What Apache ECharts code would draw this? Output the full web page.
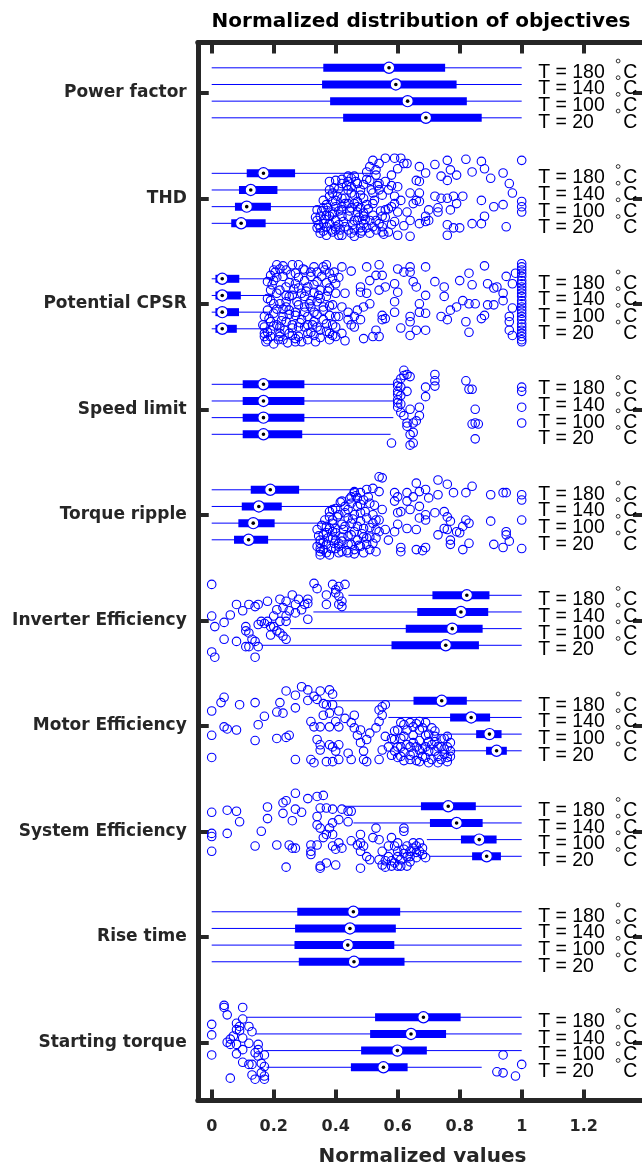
<!DOCTYPE html>
<html>
<head>
<meta charset="utf-8">
<script src="https://cdn.jsdelivr.net/npm/echarts@6/dist/echarts.min.js"></script>
<style>
html,body{margin:0;padding:0;background:#fff;}
#chart{width:642px;height:1167px;}
</style>
</head>
<body>
<div id="chart"></div>
<script>
// ---------------- DATA ----------------
const categories = ['Power factor','THD','Potential CPSR','Speed limit','Torque ripple',
  'Inverter Efficiency','Motor Efficiency','System Efficiency','Rise time','Starting torque'];
const temperatures = ['180','140','100','20'];
const xTickValues = [0,0.2,0.4,0.6,0.8,1,1.2];
const xTickLabels = ['0','0.2','0.4','0.6','0.8','1','1.2'];

// box stats per temperature (180,140,100,20): [whiskerLow, q1, median, q3, whiskerHigh]
const powerFactorStats = [[0,0.360,0.572,0.753,1],[0,0.356,0.594,0.790,1],[0,0.382,0.632,0.823,1],[0,0.424,0.691,0.871,1]];
const thdStats = [[0,0.113,0.167,0.269,0.52],[0,0.088,0.126,0.212,0.46],[0,0.075,0.113,0.191,0.38],[0,0.063,0.095,0.174,0.34]];
const cpsrStats = [[0,0.012,0.034,0.089,0.20],[0,0.012,0.034,0.094,0.20],[0,0.012,0.034,0.088,0.19],[0,0.012,0.034,0.081,0.18]];
const speedLimitStats = [[0,0.100,0.167,0.299,0.590],[0,0.100,0.167,0.299,0.590],[0,0.100,0.167,0.299,0.586],[0,0.100,0.167,0.292,0.577]];
const torqueRippleStats = [[0,0.126,0.189,0.282,0.46],[0,0.097,0.152,0.226,0.42],[0,0.086,0.134,0.203,0.38],[0,0.072,0.119,0.182,0.34]];
const inverterEffStats = [[0.441,0.712,0.823,0.896,1],[0.328,0.663,0.804,0.892,1],[0.253,0.626,0.776,0.874,1],[0.161,0.580,0.755,0.862,1]];
const motorEffStats = [[0.371,0.651,0.742,0.823,1],[0.570,0.769,0.837,0.898,1],[0.758,0.853,0.896,0.935,1],[0.774,0.885,0.919,0.952,1]];
const systemEffStats = [[0.425,0.675,0.763,0.852,1],[0.457,0.704,0.790,0.874,1],[0.694,0.804,0.863,0.919,1],[0.704,0.840,0.887,0.933,1]];
const riseTimeStats = [[0,0.276,0.457,0.608,1],[0,0.269,0.446,0.594,1],[0,0.267,0.439,0.589,1],[0,0.281,0.459,0.622,1]];
const startingTorqueStats = [[0.113,0.527,0.683,0.803,1],[0.140,0.511,0.643,0.756,1],[0.167,0.482,0.599,0.694,1],[0.177,0.449,0.554,0.632,0.871]];

// outliers per group: [value, jitter within the group band]
const powerFactorOutliers = [];
const thdOutliers = [
[0.52,-0.36],[0.54,-0.33],[0.56,-0.38],[0.59,-0.38],[0.61,-0.38],[0.62,-0.33],[0.63,-0.33],[0.76,-0.36],[0.82,-0.37],[0.87,-0.35],
[1.0,-0.36],[0.88,-0.28],[0.84,-0.25],[0.90,-0.19],[0.94,-0.24],[0.96,-0.14],[0.97,-0.05],[0.79,-0.22],[0.77,-0.27],[0.76,-0.17],
[0.74,-0.21],[0.72,-0.32],[0.69,-0.24],[0.67,-0.30],[0.67,-0.16],[0.66,-0.17],[0.60,-0.28],[0.58,-0.22],[0.56,-0.16],[0.53,-0.27],
[0.51,-0.30],[0.50,-0.25],
[0.64,-0.05],[0.67,-0.05],[0.72,-0.02],[0.74,0],[0.76,0],[0.78,-0.02],[0.81,-0.02],[0.87,0.02],[0.91,0.08],[0.94,0.06],
[1.0,0.03],[1.0,0.08],[1.0,0.13],[0.79,0.05],[0.77,0.11],[0.73,0.09],[0.73,0.13],[0.70,0.11],[0.69,0.17],[0.67,0.03],
[0.65,0.05],[0.66,0.02],[0.63,0.13],[0.64,0.21],[0.67,0.24],[0.69,0.22],[0.70,0.21],[0.76,0.25],[0.78,0.28],[0.80,0.28],
[0.84,0.24],[0.88,0.17],[0.87,0.24],[0.95,0.27],[0.60,0.35],[0.64,0.36],[0.76,0.35],[0.60,0.13],[0.61,0.02],[0.59,-0.02],
[0.58,0.08],[0.56,0.11],[0.55,0.17],[0.59,0.22],[0.55,0.27],[0.55,0.32],[0.53,0.21],[0.52,-0.05],[0.52,0.05],[0.54,-0.08],
[0.54,-0.14],[0.51,-0.17],[0.53,-0.22],[0.60,-0.11],[0.57,-0.08],
[0.34,0.11],[0.34,0.21],[0.35,0.28],[0.35,0.33],[0.36,0.24],[0.37,0.16],[0.37,0.06],[0.38,-0.02],[0.38,-0.08],[0.39,0.03],
[0.39,0.13],[0.40,0.21],[0.40,0.30],[0.41,0.35],[0.41,0.25],[0.42,0.17],[0.42,0.08],[0.43,0],[0.44,-0.08],[0.44,-0.16],
[0.45,-0.19],[0.45,-0.11],[0.46,-0.03],[0.46,0.05],[0.47,0.13],[0.47,0.21],[0.48,0.28],[0.48,0.33],[0.49,0.24],[0.49,0.14],
[0.50,0.06],[0.36,0.02],[0.38,-0.16],[0.40,-0.17],[0.41,-0.09],[0.42,-0.14],[0.44,-0.21],[0.46,-0.21],[0.47,-0.14],[0.48,-0.08],
[0.49,0],[0.35,0.17],[0.37,0.27],[0.39,0.32],[0.40,0.08],[0.42,0],[0.43,0.27],[0.45,0.33],[0.46,0.30],[0.48,0.09],
[0.49,0.17],[0.44,0.17],[0.45,0.09],[0.47,0.03],[0.39,-0.05],[0.42,0.11],[0.44,0.05],[0.46,0.21],[0.40,0.02],[0.38,0.17],
[0.36,0.09],[0.34,0.28],[0.42,0.35],[0.50,0.28],[0.51,0.21],[0.52,0.27],
[0.335,0.18],[0.345,0.25],[0.355,0.12],[0.36,0.31],[0.365,0.20],[0.37,0.35],[0.375,0.09],[0.38,0.24],[0.385,0.30],[0.39,0.15],
[0.395,-0.10],[0.40,0.27],[0.405,-0.02],[0.41,0.12],[0.415,0.30],[0.42,-0.18],[0.425,0.22],[0.43,0.05],[0.435,-0.12],[0.44,0.30],
[0.445,0.12],[0.45,-0.05],[0.455,0.25],[0.46,0.36],[0.465,-0.16],[0.47,0.08],[0.475,0.18],[0.48,-0.03],[0.485,0.31],[0.49,-0.13],
[0.495,0.20],[0.50,-0.18],[0.505,0.10],[0.51,0.33],[0.515,-0.08],[0.52,0.16],[0.525,0.02],[0.53,0.30],[0.535,-0.12],[0.54,0.24],
[0.545,0.12],[0.55,-0.03],[0.555,0.34],[0.56,0.18],[0.57,0.10],[0.57,0.32],[0.58,0.25],[0.58,-0.12],[0.59,0.05],[0.62,0.26]];
const cpsrOutliers = [
[1.0,-0.38],[1.0,-0.35],[1.0,-0.32],[1.0,-0.29],[1.0,-0.26],[1.0,-0.22],[1.0,-0.19],[1.0,-0.16],[1.0,-0.13],[1.0,-0.10],
[1.0,-0.07],[1.0,-0.03],[1.0,0],[1.0,0.03],[1.0,0.06],[1.0,0.09],[1.0,0.12],[1.0,0.15],[1.0,0.19],[1.0,0.22],
[1.0,0.25],[1.0,0.28],[1.0,0.31],[1.0,0.34],[1.0,0.36],
[0.97,0.04],[0.96,0.12],[0.96,0.25],[0.97,0.30],[0.96,0.17],[0.98,-0.29],[0.95,-0.26],[0.97,-0.19],
[0.69,-0.35],[0.64,-0.35],[0.60,-0.33],[0.54,-0.37],[0.50,-0.35],[0.88,-0.36],[0.83,-0.29],[0.80,-0.22],[0.84,-0.18],[0.89,-0.19],
[0.91,-0.15],[0.92,-0.16],[0.94,-0.10],[0.94,-0.03],[0.91,0.01],[0.89,0.01],[0.85,0],[0.83,0],[0.81,-0.03],[0.79,0.03],
[0.77,0.06],[0.75,-0.07],[0.75,-0.16],[0.72,-0.21],[0.69,-0.08],[0.67,0],[0.66,-0.16],[0.65,-0.21],[0.64,-0.30],[0.62,-0.30],
[0.74,0.12],[0.76,0.15],[0.82,0.17],[0.83,0.27],[0.88,0.11],[0.87,0.14],[0.67,0.08],[0.69,0.09],[0.64,0.12],[0.64,0.17],
[0.66,0.25],[0.69,0.25],[0.64,0.30],[0.61,0.23],[0.59,0.08],[0.59,-0.02],[0.56,0.14],[0.55,0.11],[0.53,0.25],[0.52,0.31],
[0.49,0.33],[0.54,0.31],[0.55,-0.27],[0.53,-0.27],[0.51,-0.22],[0.48,-0.16],[0.48,-0.11],[0.50,-0.10],[0.54,-0.13],[0.56,-0.16],
[0.59,-0.19],[0.60,-0.11],[0.51,0],[0.49,0.03],[0.47,0.06],[0.46,0.12],[0.44,0.15],[0.42,0.03],[0.41,0.12],[0.46,0.22],
[0.48,0.15],[0.55,0.15],
[0.17,0.12],[0.17,0.22],[0.17,0.31],[0.18,0.34],[0.18,0.27],[0.19,0.17],[0.18,0.06],[0.19,-0.03],[0.19,-0.13],[0.20,-0.22],
[0.20,-0.32],[0.21,-0.37],[0.22,-0.33],[0.23,-0.26],[0.24,-0.16],[0.25,-0.07],[0.24,0.03],[0.23,0.12],[0.22,0.22],[0.22,0.31],
[0.20,0.38],[0.23,0.34],[0.25,0.28],[0.26,0.20],[0.27,0.11],[0.28,0.01],[0.26,-0.08],[0.27,-0.19],[0.27,-0.29],[0.26,-0.37],
[0.28,-0.37],[0.30,-0.32],[0.32,-0.26],[0.31,-0.16],[0.30,-0.07],[0.30,0.03],[0.31,0.12],[0.30,0.22],[0.28,0.31],[0.27,0.36],
[0.31,0.34],[0.32,0.27],[0.33,0.17],[0.33,0.08],[0.34,-0.02],[0.33,-0.11],[0.34,-0.21],[0.34,-0.30],[0.33,-0.35],[0.36,-0.35],
[0.37,-0.37],[0.38,-0.29],[0.39,-0.24],[0.38,-0.15],[0.37,-0.07],[0.36,0.03],[0.38,0.11],[0.37,0.19],[0.38,0.28],[0.38,0.34],
[0.40,0.31],[0.40,0.22],[0.40,0.12],[0.39,0.01],[0.40,-0.10],[0.40,-0.19],[0.21,-0.10],[0.22,0],[0.18,-0.21],[0.20,0.09],
[0.21,0.20],[0.24,-0.32],[0.25,0.06],[0.28,0.22],[0.32,-0.03],[0.35,0.25],[0.35,-0.13],[0.19,-0.27],[0.24,0.17],[0.28,-0.15],
[0.21,-0.25],[0.23,0.05],[0.25,-0.20],[0.26,0.30],[0.29,0.15],[0.30,-0.22],[0.32,0.03],[0.33,0.30],[0.35,-0.05],[0.36,0.15],
[0.19,0.25],[0.20,0],[0.24,-0.02],[0.27,0.08],[0.29,-0.10],[0.31,0.20],[0.34,0.10],[0.37,-0.20],[0.39,0.20],[0.22,0.28],
[0.165,0.20],[0.17,0.28],[0.175,0.36],[0.18,-0.05],[0.185,0.14],[0.19,0.31],[0.195,-0.18],[0.20,0.21],[0.205,-0.30],[0.21,0.05],
[0.215,0.34],[0.22,-0.13],[0.225,0.16],[0.23,-0.36],[0.235,0.25],[0.24,-0.08],[0.245,0.37],[0.25,0.10],[0.255,-0.28],[0.26,0.23],
[0.265,-0.14],[0.27,0.33],[0.275,-0.02],[0.28,-0.25],[0.285,0.18],[0.29,0.36],[0.295,-0.33],[0.30,0.08],[0.305,-0.12],[0.31,0.28],
[0.315,0.00],[0.32,-0.30],[0.325,0.20],[0.33,-0.18],[0.335,0.36],[0.34,0.22],[0.345,-0.08],[0.35,0.32],[0.355,-0.26],[0.36,0.06],
[0.365,-0.32],[0.37,0.26],[0.375,-0.12],[0.38,0.02],[0.39,0.30],[0.395,-0.30],[0.41,-0.25],[0.42,0.28],[0.43,-0.10],[0.44,0.08],
[0.45,-0.31],[0.45,0.20],[0.43,0.35],[0.42,-0.35]];
const speedLimitOutliers = [
[0.62,-0.37],[0.63,-0.33],[0.64,-0.31],[0.62,-0.32],[0.61,-0.29],[0.60,-0.25],[0.60,-0.22],[0.61,-0.21],[0.60,-0.17],[0.60,-0.14],
[0.61,-0.13],[0.60,-0.09],[0.60,-0.06],[0.61,-0.05],[0.60,-0.02],[0.61,0.03],[0.62,0.06],[0.64,0],[0.67,-0.02],[0.67,0.06],
[0.66,0.11],[0.65,0.13],[0.63,0.13],[0.63,0.16],[0.64,0.24],[0.65,0.22],[0.65,0.32],[0.64,0.34],[0.58,0.32],[0.63,-0.17],
[0.69,-0.21],[0.69,-0.12],[0.72,-0.33],[0.72,-0.27],[0.72,-0.22],[0.82,-0.27],[0.83,-0.19],[0.84,-0.19],[0.85,0],[0.84,0.14],
[0.85,0.13],[0.86,0.14],[0.85,0.28],[1.0,-0.21],[1.0,-0.17],[1.0,-0.02],[1.0,0.13]];
const torqueRippleOutliers = [
[0.54,-0.36],[0.55,-0.35],[0.66,-0.30],[0.73,-0.33],[0.76,-0.29],[0.84,-0.27],[0.78,-0.21],[0.82,-0.21],[0.90,-0.19],[0.94,-0.21],
[0.95,-0.21],[1.0,-0.19],[1.0,-0.14],[0.69,-0.24],[0.73,-0.19],[0.67,-0.22],[0.65,-0.17],[0.63,-0.21],[0.60,-0.17],[0.59,-0.13],
[0.63,-0.13],[0.70,-0.16],[0.67,-0.08],[0.61,-0.03],[0.60,-0.02],[0.64,-0.05],[0.69,0],[0.72,-0.02],[0.75,-0.03],[0.76,0.02],
[0.67,0.03],[0.69,0.05],[0.77,0.06],[0.82,0.05],[0.83,0.08],[0.90,0.06],[1.0,0.05],[0.75,0.13],[0.76,0.14],[0.79,0.16],
[0.81,0.11],[0.80,0.17],[0.95,0.16],[0.95,0.19],[0.73,0.19],[0.66,0.14],[0.63,0.13],[0.59,0.16],[0.56,0.14],[0.54,0.05],
[0.57,0.24],[0.60,0.09],[0.77,0.24],[0.83,0.27],[0.91,0.28],[0.94,0.31],[0.96,0.25],[1.0,0.32],[0.81,0.33],[0.77,0.28],
[0.69,0.31],[0.68,0.34],[0.66,0.33],[0.61,0.31],[0.61,0.35],[0.53,0.35],[0.59,-0.21],[0.50,-0.24],[0.52,-0.25],[0.54,-0.22],
[0.48,-0.21],[0.46,-0.21],[0.42,-0.13],
[0.34,0.14],[0.35,0.24],[0.35,0.32],[0.35,0.38],[0.36,0.19],[0.37,0.11],[0.38,0.02],[0.38,-0.03],[0.39,0.08],[0.39,0.16],
[0.40,0.24],[0.40,0.32],[0.41,0.36],[0.41,0.27],[0.42,0.21],[0.43,0.11],[0.44,0.03],[0.44,-0.05],[0.45,-0.11],[0.45,-0.17],
[0.46,-0.22],[0.47,-0.16],[0.47,-0.08],[0.48,-0.02],[0.48,0.06],[0.49,0.13],[0.49,0.21],[0.50,0.28],[0.51,0.33],[0.48,0.30],
[0.47,0.24],[0.46,0.16],[0.45,0.08],[0.46,0],[0.44,0.28],[0.42,0.35],[0.40,0.13],[0.39,0.22],[0.37,0.28],[0.36,0.33],
[0.39,0.05],[0.41,0],[0.43,-0.08],[0.49,-0.14],[0.51,-0.11],[0.52,0],[0.52,0.08],[0.53,0.14],[0.53,0.22],[0.51,0.21],
[0.50,0.03],[0.46,0.33],[0.44,0.36],[0.42,0.09],[0.37,0.17],[0.35,0.27],[0.38,0.38],[0.40,-0.06],[0.45,0.19],
[0.34,0.30],[0.345,0.20],[0.35,0.35],[0.355,0.10],[0.36,0.26],[0.365,0.05],[0.37,0.36],[0.375,0.22],[0.38,0.13],[0.385,0.32],
[0.39,-0.05],[0.395,0.27],[0.40,0.17],[0.405,0.02],[0.41,0.30],[0.415,-0.12],[0.42,0.25],[0.425,0.14],[0.43,-0.02],[0.435,0.34],
[0.44,0.20],[0.445,-0.15],[0.45,0.28],[0.455,0.04],[0.46,0.37],[0.465,-0.18],[0.47,0.11],[0.475,0.29],[0.48,-0.10],[0.485,0.18],
[0.49,0.36],[0.495,-0.03],[0.50,0.22],[0.505,-0.17],[0.51,0.12],[0.52,0.27],[0.525,-0.09],[0.53,0.05],[0.54,0.16],[0.55,-0.05]];
const inverterEffOutliers = [
[0,-0.34],[0,-0.04],[0.01,0.06],[0,0.30],[0.01,0.35],[0.04,0.02],[0.06,-0.05],[0.08,-0.15],[0.10,-0.09],[0.12,-0.15],
[0.14,-0.13],[0.15,-0.15],[0.18,-0.18],[0.22,-0.20],[0.24,-0.18],[0.26,-0.24],[0.27,-0.15],[0.28,-0.20],[0.31,-0.20],[0.30,-0.15],
[0.31,-0.16],[0.29,-0.10],[0.27,-0.07],[0.25,-0.09],[0.23,-0.12],[0.21,-0.10],[0.20,-0.04],[0.22,0.01],[0.24,0.01],[0.18,0.01],
[0.17,0.03],[0.16,0.01],[0.15,0.04],[0.11,0.06],[0.11,0.10],[0.12,0.12],[0.13,0.18],[0.14,0.20],[0.15,0.25],[0.12,0.25],
[0.11,0.25],[0.14,0.35],[0.08,0.20],[0.04,0.18],[0.19,0.14],[0.21,0.10],[0.22,0.12],[0.23,0.15],[0.24,0.18],[0.33,-0.35],
[0.34,-0.30],[0.37,-0.24],[0.39,-0.34],[0.40,-0.29],[0.41,-0.32],[0.43,-0.34],[0.40,-0.26],[0.41,-0.23],[0.42,-0.18],[0.42,-0.13],
[0.41,-0.15],[0.37,-0.15],[0.31,-0.01],[0.24,-0.04],[0.19,0.06],[0.20,0.06]];
const motorEffOutliers = [
[0,-0.14],[0.03,-0.22],[0.04,-0.27],[0.09,-0.20],[0.14,-0.22],[0.17,-0.09],[0.15,-0.01],[0.04,0.01],[0.05,0.03],[0.08,0.04],
[0,0.09],[0.14,0.14],[0.21,0.12],[0.24,0.11],[0.25,0.09],[0,0.30],[0.21,-0.13],[0.22,-0.22],[0.23,-0.12],[0.24,-0.33],
[0.27,-0.29],[0.27,-0.17],[0.29,-0.37],[0.31,-0.34],[0.33,-0.28],[0.31,-0.24],[0.34,-0.25],[0.36,-0.21],[0.38,-0.34],[0.39,-0.30],
[0.35,-0.33],[0.37,-0.20],[0.39,-0.20],[0.36,-0.10],[0.38,-0.12],[0.41,-0.14],[0.43,-0.07],[0.46,-0.10],[0.40,-0.04],[0.41,0.01],
[0.38,0.01],[0.35,0.01],[0.32,-0.04],[0.33,0.01],[0.45,-0.03],[0.46,0.02],[0.48,0.04],[0.47,0.09],[0.50,0.13],[0.51,0.07],
[0.48,0.16],[0.49,0.24],[0.49,0.32],[0.50,0.34],[0.54,0.32],[0.55,0.23],[0.53,0.02],[0.54,-0.04],[0.55,-0.10],[0.55,-0.18],
[0.56,-0.20],[0.54,-0.15],[0.34,0.13],[0.35,0.18],[0.35,0.23],[0.38,0.18],[0.39,0.20],[0.41,0.18],[0.40,0.24],[0.44,0.26],
[0.45,0.32],[0.41,0.32],[0.39,0.34],[0.37,0.34],[0.32,0.32],[0.33,0.35],[0.27,0.32],[0.56,0.10],[0.59,0.13],[0.60,0.20],
[0.61,0.29],[0.64,0.32],[0.67,0.34],[0.70,0.35],[0.74,0.32],[0.76,0.34],[0.77,0.24],[0.77,0.16],[0.75,0.12],[0.72,0.15],
[0.69,0.09],[0.67,0.04],[0.65,0.01],[0.64,-0.03],[0.61,-0.03],[0.62,0.10],[0.65,0.16],[0.67,0.23],[0.69,0.20],[0.72,0.24],
[0.73,0.29],[0.76,0.20],[0.74,0.20],[0.72,0.05],[0.69,-0.03],[0.67,-0.04],[0.62,-0.01],[0.60,0.04],[0.58,0.12],[0.59,0.24],
[0.61,0.20],[0.65,0.26],[0.68,0.29],[0.64,0.20],[0.70,0.15],[0.75,0.27],[0.77,0.29],
[0.57,0.20],[0.58,0.28],[0.59,0.05],[0.60,0.30],[0.61,0.12],[0.62,0.25],[0.63,0.18],[0.63,0.04],[0.64,0.28],[0.65,0.09],
[0.66,0.20],[0.66,0.33],[0.67,0.14],[0.68,0.22],[0.68,0.02],[0.69,0.30],[0.70,0.08],[0.70,0.24],[0.71,0.18],[0.71,0.32],
[0.72,0.10],[0.73,0.20],[0.73,0.35],[0.74,0.12],[0.75,0.22],[0.76,0.30],[0.76,0.10],[0.62,0.33],[0.66,-0.02],[0.71,0.02]];
const systemEffOutliers = [
[0,-0.18],[0,0.02],[0,0.05],[0,0.19],[0.05,-0.20],[0.08,-0.19],[0.09,-0.09],[0.05,0.02],[0.14,0.14],[0.16,0],
[0.18,-0.12],[0.18,-0.23],[0.21,0.13],[0.23,-0.17],[0.24,0.34],[0.23,-0.27],[0.24,-0.29],[0.25,0.13],[0.26,0.16],[0.27,0.16],
[0.27,-0.36],[0.27,-0.21],[0.26,-0.10],[0.29,-0.18],[0.31,-0.31],[0.32,0.13],[0.32,0.19],[0.32,0.22],[0.34,0.13],[0.34,-0.33],
[0.34,-0.14],[0.34,-0.06],[0.36,-0.34],[0.35,0.35],[0.35,0.33],[0.37,0.30],[0.40,0.32],[0.35,-0.22],[0.37,-0.22],[0.39,-0.21],
[0.42,-0.21],[0.44,-0.19],[0.45,-0.19],[0.44,-0.09],[0.41,-0.11],[0.39,-0.08],[0.38,-0.03],[0.39,0.03],[0.37,0.03],[0.35,-0.03],
[0.36,0.06],[0.39,0.14],[0.40,0.17],[0.42,0.16],[0.41,0.11],[0.45,0.09],[0.47,0.13],[0.48,0.03],[0.48,0.11],[0.49,0.14],
[0.48,0.19],[0.50,0.24],[0.51,0.27],[0.48,0.35],[0.53,-0.03],[0.54,0.08],[0.52,0.06],[0.54,0.27],[0.55,0.32],[0.56,0.34],
[0.58,0.33],[0.60,0.33],[0.61,0.33],[0.63,0.33],[0.55,0.19],[0.57,0.14],[0.59,0.14],[0.60,0.19],[0.62,0.21],[0.64,0.19],
[0.65,0.11],[0.67,0.11],[0.68,0.16],[0.69,0.25],[0.66,0.25],[0.64,0.24],[0.62,-0.03],[0.62,0],[0.60,0.11],[0.58,0.06],
[0.57,0.24],[0.58,0.28],[0.60,0.24],[0.61,0.27],[0.62,0.17],[0.63,0.24],[0.65,0.16],[0.66,0.20],[0.67,0.19],[0.68,0.22],
[0.66,0.14],[0.63,0.14],[0.56,0.28],[0.59,0.30],[0.64,0.29]];
const riseTimeOutliers = [];
const startingTorqueOutliers = [
[0.04,-0.35],[0.04,-0.33],[0.10,-0.33],[0.05,-0.26],[0.10,-0.22],[0,-0.17],[0.08,-0.18],[0.09,-0.15],[0.12,-0.15],[0.08,-0.12],
[0.09,-0.11],[0.13,-0.10],[0,-0.07],[0.07,-0.06],[0.10,-0.04],[0.06,-0.03],[0.05,0],[0.06,0.02],[0.08,0.02],[0.12,0.01],
[0.15,0.02],[0.15,0.07],[0.08,0.11],[0,0.12],[0.10,0.07],[0.14,0.10],[0.17,0.12],[0.15,0.13],[0.10,0.19],[0.12,0.21],
[0.13,0.21],[0.16,0.20],[0.17,0.23],[0.13,0.31],[0.14,0.35],[0.16,0.29],[0.17,0.32],[0.17,0.35],[0.06,0.34],[0.94,0.12],
[1.0,0.21],[0.92,0.28],[0.94,0.29],[0.98,0.32]];

const groupStats = [powerFactorStats,thdStats,cpsrStats,speedLimitStats,torqueRippleStats,
  inverterEffStats,motorEffStats,systemEffStats,riseTimeStats,startingTorqueStats];
const groupOutliers = [powerFactorOutliers,thdOutliers,cpsrOutliers,speedLimitOutliers,torqueRippleOutliers,
  inverterEffOutliers,motorEffOutliers,systemEffOutliers,riseTimeOutliers,startingTorqueOutliers];

// ---------------- LAYOUT ----------------
const T_OFFSETS = [-0.237,-0.079,0.079,0.237];
const LABEL_X = 1.053;
const AXIS_COLOR = '#262626';
const BLUE = '#0000ff';
const BOLD_FONT = '"DejaVu Sans", sans-serif';
const REG_FONT = '"Liberation Sans", Arial, sans-serif';

const boxData = [];
const labelData = [];
const outlierData = [];
groupStats.forEach((stats, g) => {
  stats.forEach((s, t) => {
    boxData.push([s[0], s[1], s[2], s[3], s[4], g + T_OFFSETS[t]]);
    labelData.push([LABEL_X, g + T_OFFSETS[t], t]);
  });
});
groupOutliers.forEach((list, g) => {
  list.forEach(p => outlierData.push([p[0], g + p[1]]));
});

const chart = echarts.init(document.getElementById('chart'), null, {renderer: 'canvas'});

function xLabel(v) {
  for (let i = 0; i < xTickValues.length; i++) {
    if (Math.abs(xTickValues[i] - v) < 1e-6) return xTickLabels[i];
  }
  return '';
}

const yIdx = categories.map((c, i) => i);

const commonX = {
  type: 'value', min: -0.045, max: 1.4042,
  splitLine: {show: false},
  axisLine: {show: true, onZero: false, lineStyle: {color: AXIS_COLOR, width: 5}},
  axisTick: {show: true, inside: true, length: 11, lineStyle: {color: AXIS_COLOR, width: 4}, customValues: xTickValues}
};
const commonY = {
  type: 'value', inverse: true, min: -0.477, max: 9.552,
  splitLine: {show: false},
  axisLine: {show: true, onZero: false, lineStyle: {color: AXIS_COLOR, width: 5}},
  axisTick: {show: true, inside: true, length: 11, lineStyle: {color: AXIS_COLOR, width: 4}, customValues: yIdx}
};

chart.setOption({
  animation: false,
  backgroundColor: '#fff',
  grid: {left: 197.75, top: 42.5, width: 449.25, height: 1058, containLabel: false, outerBoundsMode: 'none'},
  graphic: [{
    type: 'text', x: 421, y: 22,
    style: {text: 'Normalized distribution of objectives', font: 'bold 20px ' + BOLD_FONT, fill: '#000',
      align: 'center', verticalAlign: 'middle'}
  }],
  xAxis: [
    Object.assign({}, commonX, {
      position: 'bottom',
      axisLabel: {show: true, customValues: xTickValues, formatter: xLabel, margin: 18,
        color: AXIS_COLOR, fontFamily: BOLD_FONT, fontWeight: 'bold', fontSize: 16},
      name: 'Normalized values', nameLocation: 'middle', nameGap: 46,
      nameTextStyle: {color: AXIS_COLOR, fontFamily: BOLD_FONT, fontWeight: 'bold', fontSize: 20}
    }),
    Object.assign({}, commonX, {position: 'top', axisLabel: {show: false}})
  ],
  yAxis: [
    Object.assign({}, commonY, {
      position: 'left',
      axisLabel: {show: true, customValues: yIdx, formatter: v => categories[Math.round(v)] || '',
        margin: 11, color: AXIS_COLOR, fontFamily: BOLD_FONT, fontWeight: 'bold', fontSize: 17}
    }),
    Object.assign({}, commonY, {position: 'right', axisLabel: {show: false},
      axisTick: {show: true, inside: true, length: 14, lineStyle: {color: AXIS_COLOR, width: 4}, customValues: yIdx}})
  ],
  series: [
    {
      type: 'custom', xAxisIndex: 0, yAxisIndex: 0, silent: true,
      data: boxData,
      encode: {x: [0, 4], y: 5},
      renderItem: function (params, api) {
        const y = api.value(5);
        const lo = api.coord([api.value(0), y]);
        const q1 = api.coord([api.value(1), y]);
        const md = api.coord([api.value(2), y]);
        const q3 = api.coord([api.value(3), y]);
        const hi = api.coord([api.value(4), y]);
        return {type: 'group', children: [
          {type: 'line', shape: {x1: lo[0], y1: lo[1], x2: hi[0], y2: hi[1]}, style: {stroke: BLUE, lineWidth: 1}},
          {type: 'rect', shape: {x: q1[0], y: q1[1] - 4, width: q3[0] - q1[0], height: 8}, style: {fill: BLUE}},
          {type: 'circle', shape: {cx: md[0], cy: md[1], r: 5.6}, style: {fill: '#fff', stroke: BLUE, lineWidth: 1.2}},
          {type: 'circle', shape: {cx: md[0], cy: md[1], r: 1.8}, style: {fill: '#000'}}
        ]};
      }
    },
    {
      type: 'scatter', xAxisIndex: 0, yAxisIndex: 0, silent: true,
      data: outlierData, symbol: 'circle', symbolSize: 8.5,
      itemStyle: {color: 'rgba(0,0,0,0)', borderColor: BLUE, borderWidth: 1.1, opacity: 1},
      emphasis: {disabled: true}
    },
    {
      type: 'custom', xAxisIndex: 0, yAxisIndex: 0, silent: true,
      data: labelData,
      encode: {x: 0, y: 1},
      renderItem: function (params, api) {
        const p = api.coord([api.value(0), api.value(1)]);
        const t = api.value(2);
        return {type: 'group', children: [
          {type: 'text', x: p[0], y: p[1] + 4.5,
            style: {text: 'T = ' + temperatures[t], font: '19.5px ' + REG_FONT, fill: '#000', align: 'left', verticalAlign: 'middle'}},
          {type: 'circle', shape: {cx: p[0] + 80, cy: p[1] - 6.8, r: 1.9}, style: {fill: 'none', stroke: '#000', lineWidth: 0.8}},
          {type: 'text', x: p[0] + 85, y: p[1] + 4.5,
            style: {text: 'C', font: '19.5px ' + REG_FONT, fill: '#000', align: 'left', verticalAlign: 'middle'}}
        ]};
      }
    }
  ]
});
</script>
</body>
</html>
